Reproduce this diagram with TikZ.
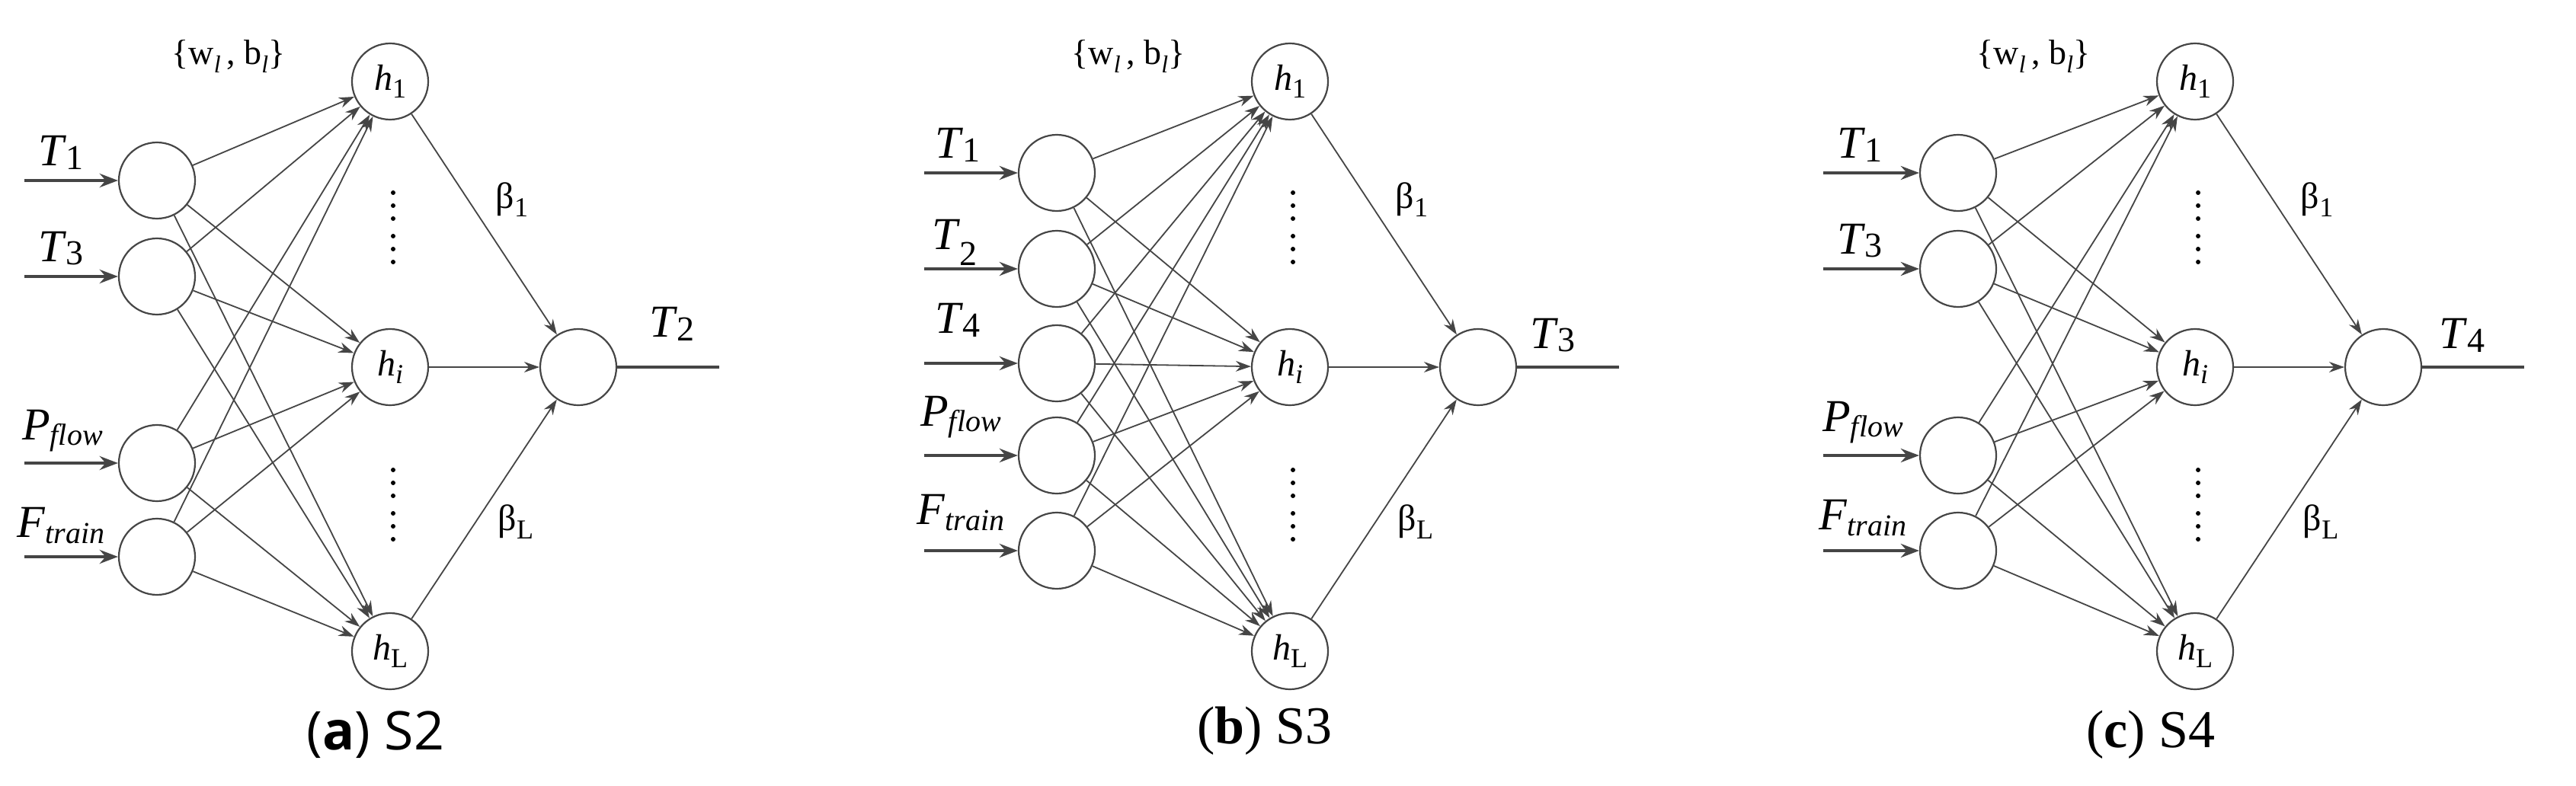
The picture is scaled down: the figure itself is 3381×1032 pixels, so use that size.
\documentclass[tikz,border=0pt]{standalone}
\usepackage{fontspec}
\setmainfont{Liberation Serif}
\newfontfamily\capsans{Open Sans}
\usetikzlibrary{arrows.meta}
\definecolor{ln}{HTML}{454545}
\newcommand\sbx[2]{#1\raisebox{-0.22em}{\fontsize{18}{18}\selectfont #2}}
\newcommand\Tl[2]{\textit{#1}\raisebox{-0.08em}{\fontsize{23}{23}\selectfont #2}}
\newcommand\Tlo[2]{\textit{#1}\raisebox{-0.35em}{\fontsize{23}{23}\selectfont #2}}
\newcommand\Ps[2]{\textit{#1}\raisebox{-0.12em}{\fontsize{20}{20}\selectfont\itshape #2}}
\tikzset{x=0.5pt,y=-0.5pt,
 neu/.style={circle,draw=ln,line width=1.1pt,minimum size=50pt,inner sep=0pt,font=\fontsize{24}{24}\selectfont},
 con/.style={draw=ln,line width=0.9pt,-{Stealth[length=10pt,width=7pt]}},
 inarr/.style={draw=ln,line width=2.2pt,-{Stealth[length=12pt,width=9pt]}},
 outl/.style={draw=ln,line width=2pt},
 lab/.style={font=\fontsize{30}{30}\selectfont,inner sep=0pt},
 beta/.style={font=\fontsize{24}{24}\selectfont,inner sep=0pt},
 wb/.style={font=\fontsize{23}{23}\selectfont,inner sep=0pt},
 dot/.style={circle,fill=black,inner sep=0pt,minimum size=3pt},
 capt/.style={font=\fontsize{35}{35}\selectfont,inner sep=0pt}}
\newcommand\hidden{%
  \node[neu] (h1) at (0,107) {\sbx{\textit{h}}{1}};
  \node[neu] (hi) at (0,482) {\sbx{\textit{h}}{\textit{i}}};
  \node[neu] (hL) at (0,855) {\sbx{\textit{h}}{L}};
  \node[neu] (o) at (247,482) {};
  \coordinate (e) at (432,482);
  \draw[outl] (o) -- (e);
  \foreach \h in {h1,hi,hL} {\draw[con] (\h) -- (o);}
  \node[beta] (b1) at (160,262) {\sbx{β}{1}};
  \node[beta] (bL) at (165,685) {\sbx{β}{L}};
  \foreach \y [count=\k] in {253,270,287,310,327,344,617,634,651,674,691,708} {\node[dot] (d\k) at (4,\y) {};}
  \node[wb] (w) at (-212,74) {\{w\raisebox{-0.25em}{\fontsize{16}{16}\selectfont\itshape l}\,, b\raisebox{-0.25em}{\fontsize{16}{16}\selectfont\itshape l}\}};
}
\begin{document}
\begin{tikzpicture}
\useasboundingbox (0,0) rectangle (3381,1032);
% ---------- (a)
\begin{scope}[shift={(512,0)},name prefix=a-]
\hidden
\foreach \y [count=\k] in {237,363,608,731} {
  \node[neu] (i\k) at (-306,\y) {};
  \coordinate (s\k) at (-480,\y);
  \draw[inarr] (s\k) -- (i\k);
  \foreach \h in {h1,hi,hL} {\draw[con] (i\k) -- (\h);}
}
\node[lab] (l1) at (-432,200) {\Tl{T}{1}};
\node[lab] (l2) at (-432,326) {\Tl{T}{3}};
\node[lab] (l3) at (-430,566) {\Ps{P}{flow}};
\node[lab] (l4) at (-432,690) {\Ps{F}{train}};
\node[lab] (t) at (370,425) {\Tl{T}{2}};
\end{scope}
\node[capt] (ca) at (493,965) {\capsans(\textbf{a}) S2};
% ---------- (b)
\begin{scope}[shift={(1693,0)},name prefix=b-]
\hidden
\foreach \y [count=\k] in {227,353,477,598,723} {
  \node[neu] (i\k) at (-306,\y) {};
  \coordinate (s\k) at (-480,\y);
  \draw[inarr] (s\k) -- (i\k);
  \foreach \h in {h1,hi,hL} {\draw[con] (i\k) -- (\h);}
}
\node[lab] (l1) at (-436,190) {\Tl{T}{1}};
\node[lab] (l2) at (-440,318) {\Tlo{T}{2}};
\node[lab] (l3) at (-436,420) {\Tl{T}{4}};
\node[lab] (l4) at (-432,548) {\Ps{P}{flow}};
\node[lab] (l5) at (-432,673) {\Ps{F}{train}};
\node[lab] (t) at (345,440) {\Tl{T}{3}};
\end{scope}
\node[capt] (cb) at (1660,960) {(\textbf{b}) S3};
% ---------- (c)
\begin{scope}[shift={(2881,0)},name prefix=c-]
\hidden
\foreach \y [count=\k] in {227,353,598,723} {
  \node[neu] (i\k) at (-311,\y) {};
  \coordinate (s\k) at (-488,\y);
  \draw[inarr] (s\k) -- (i\k);
  \foreach \h in {h1,hi,hL} {\draw[con] (i\k) -- (\h);}
}
\node[lab] (l1) at (-440,190) {\Tl{T}{1}};
\node[lab] (l2) at (-440,316) {\Tl{T}{3}};
\node[lab] (l3) at (-436,555) {\Ps{P}{flow}};
\node[lab] (l4) at (-436,680) {\Ps{F}{train}};
\node[lab] (t) at (350,440) {\Tl{T}{4}};
\end{scope}
\node[capt] (cc) at (2823,965) {(\textbf{c}) S4};
\end{tikzpicture}
\end{document}
